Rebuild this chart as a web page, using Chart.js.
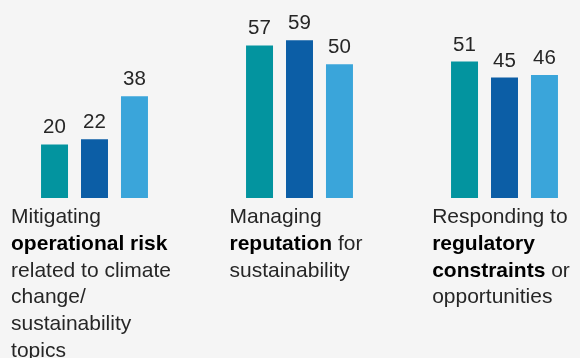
<!DOCTYPE html>
<html>
<head>
<meta charset="utf-8">
<script src="https://cdn.jsdelivr.net/npm/chart.js@4/dist/chart.umd.min.js"></script>
<style>
    html, body { margin: 0; padding: 0; background: #f5f5f5; overflow: hidden; }
    .wrap { position: absolute; left: -8px; top: 0; width: 615px; height: 358px; }
</style>
</head>
<body>
<div class="wrap"><canvas id="priorityBarChart"></canvas></div>
<script>
// categories (plain) and how they are broken into lines, **text** = bold
const categories = [
    'Mitigating operational risk related to climate change/sustainability topics',
    'Managing reputation for sustainability',
    'Responding to regulatory constraints or opportunities'
];
const categoryLines = [
    ['Mitigating', '**operational risk**', 'related to climate', 'change/', 'sustainability', 'topics'],
    ['Managing', '**reputation** for', 'sustainability'],
    ['Responding to', '**regulatory**', '**constraints** or', 'opportunities']
];
const seriesNames = ['Series A', 'Series B', 'Series C'];
const seriesA = [20, 57, 51];
const seriesB = [22, 59, 45];
const seriesC = [38, 50, 46];
const seriesColors = ['#03949f', '#0c5ea6', '#3aa5da'];

const FONT = '"Liberation Sans", Arial, Helvetica, sans-serif';

// value labels above each bar
const valueLabels = {
    id: 'valueLabels',
    afterDatasetsDraw(chart) {
        const ctx = chart.ctx;
        ctx.save();
        ctx.font = '20.5px ' + FONT;
        ctx.fillStyle = '#262626';
        ctx.textAlign = 'center';
        ctx.textBaseline = 'alphabetic';
        chart.data.datasets.forEach((ds, i) => {
            chart.getDatasetMeta(i).data.forEach((bar, j) => {
                ctx.fillText(String(ds.data[j]), bar.x, bar.y - 11);
            });
        });
        ctx.restore();
    }
};

// multi-line category labels with bold parts, block centred on the category
const categoryLabels = {
    id: 'categoryLabels',
    afterDraw(chart) {
        const ctx = chart.ctx;
        const xScale = chart.scales.x;
        const bottom = chart.chartArea.bottom;
        const size = 21, lineH = 26.8;
        const fontFor = b => (b ? 'bold ' : '') + size + 'px ' + FONT;
        ctx.save();
        ctx.textBaseline = 'alphabetic';
        ctx.textAlign = 'left';
        categoryLines.forEach((lines, i) => {
            const parsed = lines.map(l => l.split('**').map((t, k) => ({ t, b: k % 2 === 1 })).filter(s => s.t));
            const widths = parsed.map(segs => segs.reduce((w, s) => {
                ctx.font = fontFor(s.b);
                return w + ctx.measureText(s.t).width;
            }, 0));
            const maxW = Math.max(...widths);
            const left = xScale.getPixelForValue(i) - maxW / 2 - 3.5;
            parsed.forEach((segs, li) => {
                let x = left;
                const y = bottom + 25 + li * lineH;
                segs.forEach(s => {
                    ctx.font = fontFor(s.b);
                    ctx.fillStyle = s.b ? '#000' : '#262626';
                    ctx.fillText(s.t, x, y);
                    x += ctx.measureText(s.t).width;
                });
            });
        });
        ctx.restore();
    }
};

document.addEventListener('DOMContentLoaded', () => {
    const ctx = document.getElementById('priorityBarChart');
    new Chart(ctx, {
        type: 'bar',
        data: {
            labels: categories,
            datasets: [seriesA, seriesB, seriesC].map((d, i) => ({
                label: seriesNames[i],
                data: d,
                backgroundColor: seriesColors[i],
                borderWidth: 0,
                categoryPercentage: 0.585,
                barPercentage: 0.675
            }))
        },
        options: {
            responsive: true,
            maintainAspectRatio: false,
            animation: false,
            layout: { padding: { top: 0, bottom: 160, left: 0, right: 0 } },
            plugins: {
                legend: { display: false },
                tooltip: { enabled: false }
            },
            scales: {
                x: { display: false, grid: { display: false } },
                y: { display: false, min: 0, max: 74 }
            }
        },
        plugins: [valueLabels, categoryLabels]
    });
});
</script>
</body>
</html>
